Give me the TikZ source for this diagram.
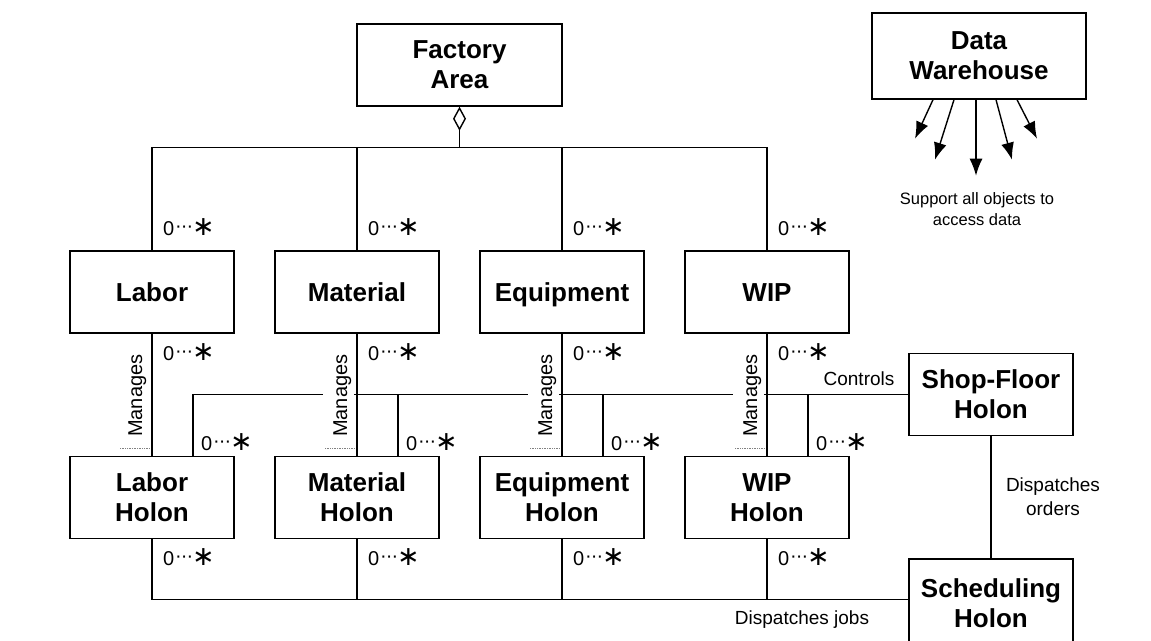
\documentclass[tikz,border=0pt]{standalone}
\usepackage{fontspec}
\setmainfont{Liberation Sans}
\newfontfamily\djv{DejaVu Sans}
\usetikzlibrary{arrows.meta,calc}
\newcommand{\mlt}{0\raisebox{3pt}{\kern0.8pt·\kern-0.9pt·\kern-0.9pt·}\kern-1.2pt{\djv\fontsize{27}{27}\selectfont ∗}}
\begin{document}
\begin{tikzpicture}[x=1pt,y=1pt,
 box/.style={draw, line width=1.4pt, minimum width=164pt, minimum height=82pt, inner sep=0pt, align=center, font=\fontsize{26}{30}\selectfont\bfseries},
 sbox/.style={box, text height=24pt, text depth=5.4pt},
 conn/.style={line width=1.4pt},
 lbl/.style={font=\fontsize{19}{24}\selectfont, inner sep=0pt, align=center},
 mult/.style={font=\fontsize{20}{24}\selectfont, inner sep=0pt, anchor=base west},
 mng/.style={rotate=90, fill=white, font=\fontsize{20}{24}\selectfont, inner xsep=1pt, inner ysep=0pt, text height=24pt, text depth=7pt},
 dotl/.style={densely dotted, gray, line width=0.7pt},
 arr/.style={line width=1.4pt, -{Latex[length=17pt,width=13pt]}}
 ]
\useasboundingbox (0,0) rectangle (1151,-640);
% nodes
\node[box, minimum width=205pt] (fa) at (459.5,-65) {Factory\\Area};
\node[box, minimum width=214pt, minimum height=86pt] (dw) at (979,-56) {Data\\Warehouse};
\node[sbox] (lab) at (152,-292) {Labor};
\node[sbox] (mat) at (357,-292) {Material};
\node[sbox] (equ) at (562,-292) {Equipment};
\node[sbox] (wip) at (767,-292) {WIP};
\node[box] (labh) at (152,-497.5) {Labor\\Holon};
\node[box] (math) at (357,-497.5) {Material\\Holon};
\node[box] (equh) at (562,-497.5) {Equipment\\Holon};
\node[box] (wiph) at (767,-497.5) {WIP\\Holon};
\node[box] (sfh) at (991,-394.5) {Shop-Floor\\Holon};
\node[box, minimum height=88pt] (sch) at (991,-603) {Scheduling\\Holon};
% aggregation tree
\draw[conn,{Diamond[open,length=24pt,width=13pt]}-] (fa.south) -- ++(0,-41) coordinate (hub);
\draw[conn] (lab.north) |- (hub) -| (wip.north);
\draw[conn] (mat.north) -- (mat.north |- hub);
\draw[conn] (equ.north) -- (equ.north |- hub);
% manages lines
\draw[conn] (lab) -- (labh);
\draw[conn] (mat) -- (math);
\draw[conn] (equ) -- (equh);
\draw[conn] (wip) -- (wiph);
% controls bus
\coordinate (lb) at ($(labh.north)+(41,0)$);
\coordinate (mb) at ($(math.north)+(41,0)$);
\coordinate (eb) at ($(equh.north)+(41,0)$);
\coordinate (wb) at ($(wiph.north)+(41,0)$);
\draw[conn] (sfh.west) -| (lb);
\draw[conn] (mb) -- (mb |- sfh.west);
\draw[conn] (eb) -- (eb |- sfh.west);
\draw[conn] (wb) -- (wb |- sfh.west);
% dispatch bus
\coordinate (sj) at ($(sch.north west)+(0,-41)$);
\draw[conn] (sj) -| (labh.south);
\draw[conn] (math.south) -- (math.south |- sj);
\draw[conn] (equh.south) -- (equh.south |- sj);
\draw[conn] (wiph.south) -- (wiph.south |- sj);
\draw[conn] (sfh) -- (sch);
% manages labels
\foreach \a/\b in {lab/labh,mat/math,equ/equh,wip/wiph}{
  \node[mng] (mg\a) at ($(\a.south)!0.5!(\b.north)+(-18.5,-1)$) {Manages};
  \draw[dotl] ($(\b.north)+(-32,7.5)$) -- ($(\b.north)+(-3,7.5)$);
  \node[mult] (ma\a) at ($(\a.north)+(11,14.5)$) {\mlt};
  \node[mult] (mb\a) at ($(\a.south)+(11,-27)$) {\mlt};
  \node[mult] (mc\a) at ($(\b.north)+(49,5)$) {\mlt};
  \node[mult] (md\a) at ($(\b.south)+(11,-26.5)$) {\mlt};
}
% data warehouse arrows
\draw[arr] ($(dw.south)+(-46,0)$) -- ++(-18,-39);
\draw[arr] ($(dw.south)+(-25,0)$) -- ++(-19,-60);
\draw[arr] ($(dw.south)+(-3,0)$) -- ++(0,-76);
\draw[arr] ($(dw.south)+(17,0)$) -- ++(16,-60);
\draw[arr] ($(dw.south)+(38,0)$) -- ++(20,-39);
\node[font=\fontsize{16.5}{20.5}\selectfont, align=center] (sup) at (977,-209) {Support all objects to\\access data};
% other labels
\node[lbl] (ctl) at (859,-379) {Controls};
\node[lbl] (dj) at (802,-620) {Dispatches jobs};
\node[lbl] (dor) at (1053,-497) {Dispatches\\orders};
\end{tikzpicture}
\end{document}
